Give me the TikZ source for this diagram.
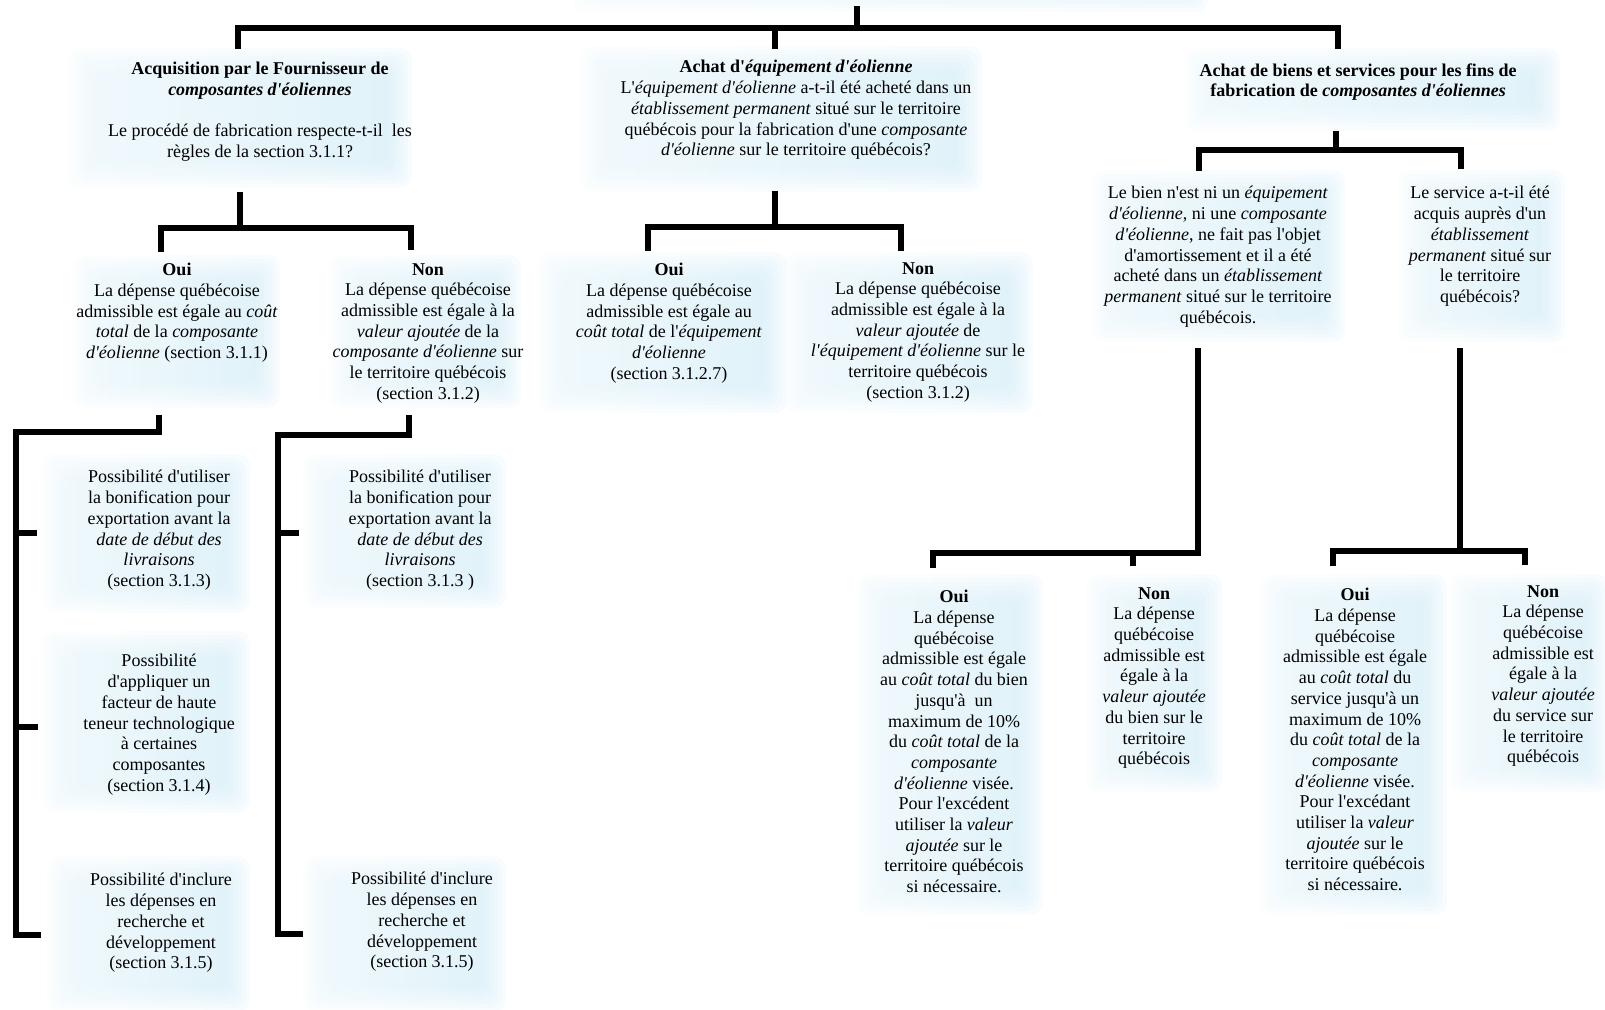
\documentclass[tikz,border=0pt]{standalone}
\usepackage{fontspec}
\newfontfamily\lib{Liberation Serif}
\definecolor{bx}{RGB}{208,235,246}
\tikzset{
  conn/.style={line width=2.6pt, line cap=butt, line join=miter},
  txt/.style={font=\lib\fontsize{9}{10.35}\selectfont, align=center, inner sep=0pt, anchor=north},
}
\newcommand\bluepatch[4]{\foreach \i in {0,...,6}{\shade[left color=bx!45, right color=bx, opacity=0.14,rounded corners=6pt] ({#1+\i*4},{#2+\i*4}) rectangle ({#3-\i*4},{#4-\i*4});}}
\begin{document}
\begin{tikzpicture}[x=0.5pt,y=-0.5pt]
\useasboundingbox (0,0) rectangle (1605,1010);
% soft blue patches
\bluepatch{573}{-30}{1208}{12}
\bluepatch{68}{48}{412}{188}
\bluepatch{580}{46}{982}{192}
\bluepatch{1184}{48}{1560}{131}
\bluepatch{73}{255}{280}{408}
\bluepatch{329}{255}{521}{408}
\bluepatch{538}{252}{787}{413}
\bluepatch{784}{252}{1033}{413}
\bluepatch{1091}{170}{1345}{342}
\bluepatch{1398}{170}{1565}{342}
\bluepatch{42}{454}{250}{613}
\bluepatch{42}{631}{250}{813}
\bluepatch{47}{856}{250}{1012}
\bluepatch{303}{454}{506}{608}
\bluepatch{303}{856}{506}{1012}
\bluepatch{856}{574}{1043}{915}
\bluepatch{1086}{574}{1222}{792}
\bluepatch{1260}{574}{1447}{915}
\bluepatch{1449}{574}{1609}{792}

% text nodes
\node[txt] (n1) at (260,62) {\textbf{Acquisition par le Fournisseur de}\\ \textbf{\textit{composantes d'éoliennes}}\\[10.35pt] Le procédé de fabrication respecte-t-il\ \ les\\ règles de la section 3.1.1?};
\node[txt] (n2) at (796,60) {\textbf{Achat d'\textit{équipement d'éolienne}}\\ L'\textit{équipement d'éolienne} a-t-il été acheté dans un\\ \textit{établissement permanent} situé sur le territoire\\ québécois pour la fabrication d'une \textit{composante}\\ \textit{d'éolienne} sur le territoire québécois?};
\node[txt] (n3) at (1358,63) {\textbf{Achat de biens et services pour les fins de}\\ \textbf{fabrication de \textit{composantes d'éoliennes}}};

\node[txt] (ouiL) at (177,263) {\textbf{Oui}\\ La dépense québécoise\\ admissible est égale au \textit{coût}\\ \textit{total} de la \textit{composante}\\ \textit{d'éolienne} (section 3.1.1)};
\node[txt] (nonL) at (428,263) {\textbf{Non}\\ La dépense québécoise\\ admissible est égale à la\\ \textit{valeur ajoutée} de la\\ \textit{composante d'éolienne} sur\\ le territoire québécois\\ (section 3.1.2)};
\node[txt] (ouiM) at (669,263) {\textbf{Oui}\\ La dépense québécoise\\ admissible est égale au\\ \textit{coût total} de l'\textit{équipement}\\ \textit{d'éolienne}\\ (section 3.1.2.7)};
\node[txt] (nonM) at (918,262) {\textbf{Non}\\ La dépense québécoise\\ admissible est égale à la\\ \textit{valeur ajoutée} de\\ \textit{l'équipement d'éolienne} sur le\\ territoire québécois\\ (section 3.1.2)};
\node[txt] (bien) at (1218,186) {Le bien n'est ni un \textit{équipement}\\ \textit{d'éolienne}, ni une \textit{composante}\\ \textit{d'éolienne}, ne fait pas l'objet\\ d'amortissement et il a été\\ acheté dans un \textit{établissement}\\ \textit{permanent} situé sur le territoire\\ québécois.};
\node[txt] (serv) at (1480,186) {Le service a-t-il été\\ acquis auprès d'un\\ \textit{établissement}\\ \textit{permanent} situé sur\\ le territoire\\ québécois?};

\node[txt] (a1) at (159,470) {Possibilité d'utiliser\\ la bonification pour\\ exportation avant la\\ \textit{date de début des}\\ \textit{livraisons}\\ (section 3.1.3)};
\node[txt] (a2) at (159,654) {Possibilité\\ d'appliquer un\\ facteur de haute\\ teneur technologique\\ à certaines\\ composantes\\ (section 3.1.4)};
\node[txt] (a3) at (161,873) {Possibilité d'inclure\\ les dépenses en\\ recherche et\\ développement\\ (section 3.1.5)};
\node[txt] (b1) at (420,470) {Possibilité d'utiliser\\ la bonification pour\\ exportation avant la\\ \textit{date de début des}\\ \textit{livraisons}\\ (section 3.1.3 )};
\node[txt] (b3) at (422,872) {Possibilité d'inclure\\ les dépenses en\\ recherche et\\ développement\\ (section 3.1.5)};

\node[txt] (c1) at (954,590) {\textbf{Oui}\\ La dépense\\ québécoise\\ admissible est égale\\ au \textit{coût total} du bien\\ jusqu'à\ \ un\\ maximum de 10\%\\ du \textit{coût total} de la\\ \textit{composante}\\ \textit{d'éolienne} visée.\\ Pour l'excédent\\ utiliser la \textit{valeur}\\ \textit{ajoutée} sur le\\ territoire québécois\\ si nécessaire.};
\node[txt] (c2) at (1154,587) {\textbf{Non}\\ La dépense\\ québécoise\\ admissible est\\ égale à la\\ \textit{valeur ajoutée}\\ du bien sur le\\ territoire\\ québécois};
\node[txt] (d1) at (1355,588) {\textbf{Oui}\\ La dépense\\ québécoise\\ admissible est égale\\ au \textit{coût total} du\\ service jusqu'à un\\ maximum de 10\%\\ du \textit{coût total} de la\\ \textit{composante}\\ \textit{d'éolienne} visée.\\ Pour l'excédant\\ utiliser la \textit{valeur}\\ \textit{ajoutée} sur le\\ territoire québécois\\ si nécessaire.};
\node[txt] (d2) at (1543,585) {\textbf{Non}\\ La dépense\\ québécoise\\ admissible est\\ égale à la\\ \textit{valeur ajoutée}\\ du service sur\\ le territoire\\ québécois};

% connectors: top level
\coordinate (top) at (857,6);
\coordinate (j0) at (857,28);
\coordinate (t1) at (238,49);
\coordinate (t2) at (775,49);
\coordinate (t3) at (1338,49);
\draw[conn, line width=2.9pt] (t1) |- (j0) -| (t3);
\draw[conn] (top) -- (j0);
\draw[conn] (t2) -- (t2 |- j0);

% from n1
\coordinate (n1b) at (240,192);
\coordinate (j1) at (240,228);
\coordinate (o1) at (161,252);
\coordinate (o2) at (411,250);
\draw[conn] (n1b) -- (j1);
\draw[conn] (o1) |- (j1) -| (o2);

% from n2
\coordinate (n2b) at (775,191);
\coordinate (j2) at (775,227);
\coordinate (m1) at (648,251);
\coordinate (m2) at (901,251);
\draw[conn] (n2b) -- (j2);
\draw[conn] (m1) |- (j2) -| (m2);

% from n3
\coordinate (n3b) at (1336,131);
\coordinate (j3) at (1336,150);
\coordinate (r1) at (1199,171);
\coordinate (r2) at (1461,169);
\draw[conn] (n3b) -- (j3);
\draw[conn] (r1) |- (j3) -| (r2);

% from ouiL
\coordinate (ouiLb) at (159,415);
\coordinate (kL) at (16,432);
\coordinate (a1t) at (37,533);
\coordinate (a2t) at (38,727);
\coordinate (a3t) at (41,935);
\draw[conn] (ouiLb) |- (kL) |- (a3t);
\draw[conn] (kL |- a1t) -- (a1t);
\draw[conn] (kL |- a2t) -- (a2t);

% from nonL
\coordinate (nonLb) at (409,415);
\coordinate (kN) at (278,435);
\coordinate (b1t) at (299,533);
\coordinate (b3t) at (303,934);
\draw[conn] (nonLb) |- (kN) |- (b3t);
\draw[conn] (kN |- b1t) -- (b1t);

% from bien
\coordinate (bienb) at (1198,348);
\coordinate (jb) at (1198,553);
\coordinate (c1t) at (933,568);
\coordinate (c2t) at (1133,566);
\draw[conn] (bienb) -- (jb) -| (c1t);
\draw[conn] (c2t) -- (c2t |- jb);

% from serv
\coordinate (servb) at (1460,348);
\coordinate (js) at (1460,551);
\coordinate (d1t) at (1333,566);
\coordinate (d2t) at (1525,565);
\draw[conn] (servb) -- (js);
\draw[conn] (d1t) |- (js) -| (d2t);
\end{tikzpicture}
\end{document}
